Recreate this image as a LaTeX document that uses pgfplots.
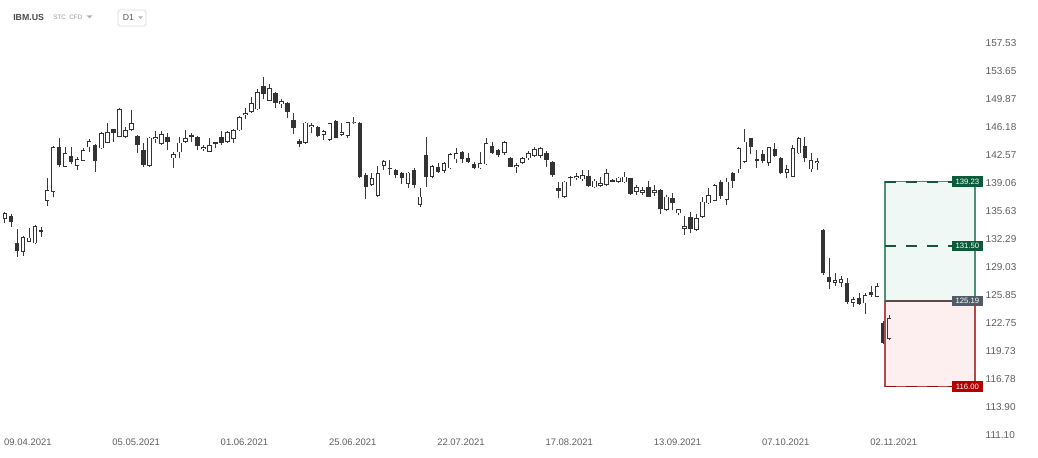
\documentclass[border=0pt]{standalone}
\usepackage{fontspec}
\setmainfont{Liberation Sans}
\usepackage{pgfplots}
\pgfplotsset{compat=1.18}
\usepackage{pgfplotstable}

\definecolor{cdark}{HTML}{333333}
\definecolor{cwick}{HTML}{3A3A3A}
\definecolor{ctick}{HTML}{5E5E5E}
\definecolor{hdr}{HTML}{4A4A4A}
\definecolor{gfill}{HTML}{2FA878}
\definecolor{gline}{HTML}{4E8F75}
\definecolor{gdash}{HTML}{14573B}
\definecolor{glab}{HTML}{0B5A3A}
\definecolor{rfill}{HTML}{E84A4A}
\definecolor{rline}{HTML}{B24A4A}
\definecolor{rdash}{HTML}{8B1010}
\definecolor{rlab}{HTML}{B30000}
\definecolor{mline}{HTML}{5B4A4A}
\definecolor{mlab}{HTML}{4F5B66}

% daily candles, i = trading day from 09.04.2021
\pgfplotstableread{
i o h l c
0 134.68 135.55 134.16 135.43
3 130.81 132.68 130.35 132.49
4 131.98 133.64 131.95 132.45
5 131.79 133.96 131.71 133.84
7 136.89 139.65 136.28 138.20
8 138.00 143.73 137.31 143.64
10 141.10 143.56 141.03 142.79
12 141.23 142.36 140.69 142.03
13 141.86 143.43 141.80 143.21
14 143.56 144.59 142.99 144.38
16 143.43 145.57 143.35 145.37
17 144.16 146.67 144.08 145.57
19 144.93 148.62 144.83 148.51
20 144.93 146.22 144.72 145.79
21 145.79 148.42 145.70 146.67
24 141.19 144.89 141.10 144.80
25 144.59 145.70 144.08 144.85
26 143.99 145.70 143.86 145.28
28 142.16 142.99 140.90 142.69
29 142.92 144.93 142.16 144.16
30 144.21 145.79 144.15 144.72
33 143.31 143.86 143.12 143.56
34 142.99 144.72 142.95 143.86
37 144.21 145.65 144.13 145.57
38 144.63 145.88 144.08 145.79
39 145.75 147.63 145.66 147.50
40 147.76 148.64 147.23 147.99
41 148.12 150.10 148.05 149.38
42 148.51 151.18 148.42 150.77
44 149.65 151.90 149.60 151.32
46 149.17 149.83 148.72 149.65
50 144.08 146.85 144.00 146.75
51 146.22 146.75 145.37 146.44
53 145.15 145.79 144.50 145.66
54 144.50 146.75 144.42 146.67
56 145.15 146.67 145.02 145.57
57 145.02 146.88 144.80 146.80
58 146.67 147.46 146.60 146.88
61 138.82 140.28 138.69 139.65
62 137.47 141.19 137.38 140.28
63 141.23 141.94 140.69 141.82
67 138.94 140.48 138.41 140.35
69 136.36 138.41 136.08 137.38
71 139.85 141.32 139.65 141.19
73 140.56 141.73 140.28 141.60
74 140.90 142.86 140.81 142.69
75 142.03 143.51 141.60 142.79
79 140.90 142.92 140.81 141.53
80 141.40 144.72 141.32 144.08
83 142.86 144.38 142.57 144.21
85 141.03 141.60 140.35 141.32
86 141.53 142.36 141.44 142.23
87 142.16 143.08 141.94 142.86
88 142.48 143.64 142.36 143.31
89 142.44 143.64 142.16 143.51
93 137.31 139.32 137.19 139.23
95 139.65 140.28 139.43 139.94
96 139.52 140.69 139.32 140.06
98 138.53 139.52 138.41 139.35
99 138.69 139.85 138.61 139.10
100 138.82 140.78 138.75 140.28
102 139.23 139.85 139.10 139.73
103 139.15 140.41 139.10 139.85
105 138.00 138.82 137.59 138.53
106 137.87 138.53 137.59 138.20
108 137.80 138.82 137.47 138.20
110 135.76 137.59 135.70 137.38
112 135.36 135.90 135.15 135.84
113 133.45 135.03 132.77 133.84
115 133.36 135.27 133.30 134.76
116 134.88 137.38 134.76 136.77
117 136.57 138.41 136.50 137.59
118 136.89 138.90 136.80 138.82
120 136.98 139.65 136.36 139.23
122 140.78 143.56 140.35 143.43
123 141.73 145.88 141.60 144.29
127 141.60 143.60 141.19 143.56
130 140.28 141.32 139.65 140.78
131 139.85 143.86 139.81 143.43
132 142.79 144.85 142.72 144.72
134 140.78 142.79 140.48 141.94
135 141.53 142.16 140.69 141.82
138 127.24 128.31 126.87 127.55
139 127.24 128.01 126.72 127.63
141 125.00 125.66 124.55 125.37
143 124.93 126.04 123.75 125.85
145 125.66 127.18 125.60 126.87
147 120.99 123.64 120.95 123.28
}\up

\pgfplotstableread{
i o h l c
1 135.03 135.27 133.76 134.28
2 131.79 133.45 130.23 130.93
6 133.36 133.76 132.56 133.16
9 143.64 144.72 141.03 141.32
11 142.44 143.56 141.44 141.73
15 143.86 144.00 140.48 141.82
18 145.88 145.92 144.29 145.37
22 145.02 145.10 142.79 143.86
23 143.21 144.08 141.10 141.32
27 144.93 145.37 143.21 144.21
31 145.15 145.37 144.29 144.85
32 144.93 145.00 143.21 143.73
35 144.21 144.29 143.43 143.99
36 144.93 145.70 143.86 144.16
43 151.63 152.80 149.83 150.50
45 150.64 150.86 148.72 149.38
47 149.30 149.51 147.33 148.20
48 147.10 147.99 145.28 146.01
49 144.38 144.59 143.56 143.99
52 146.22 146.31 144.85 145.02
55 146.97 147.10 144.72 144.80
59 146.67 146.88 139.64 139.77
60 140.06 140.28 137.06 138.53
64 140.90 141.94 140.06 140.78
65 140.69 140.78 139.65 140.06
66 140.28 140.48 138.94 139.65
68 140.69 140.90 138.41 138.82
70 142.57 144.93 138.61 139.85
72 141.03 141.60 140.35 140.48
76 142.99 143.08 141.60 142.03
77 142.23 142.86 141.60 141.65
78 141.40 141.73 140.81 140.90
81 143.73 144.21 142.66 142.79
82 143.21 143.34 142.36 142.57
84 142.16 142.36 141.03 141.10
90 142.79 143.12 141.10 141.94
91 141.65 141.86 139.85 140.06
92 138.41 139.23 137.19 138.08
94 139.85 139.94 138.69 139.65
97 139.94 140.69 138.61 138.69
101 139.39 139.56 139.15 139.23
104 139.65 139.70 137.59 137.71
107 138.53 139.32 137.31 137.38
109 138.20 138.30 135.27 135.84
111 137.19 137.87 135.76 136.65
114 134.95 135.55 132.97 133.45
119 139.23 139.43 137.06 137.47
121 140.35 140.48 138.41 139.32
124 144.72 144.80 142.69 143.56
125 142.03 143.21 140.90 141.86
126 142.66 143.21 141.53 141.86
128 143.31 144.08 142.36 142.48
129 142.23 142.30 140.20 140.28
133 143.73 144.85 141.73 142.16
136 133.36 133.48 128.12 128.31
137 127.93 130.04 126.49 127.29
140 127.18 127.75 124.85 125.11
142 125.48 126.04 124.74 124.85
144 126.22 126.87 125.66 125.85
146 122.78 122.97 120.45 120.56
}\dn

\begin{document}
\begin{tikzpicture}
\begin{axis}[
  width=778.5pt, height=342.75pt, scale only axis,
  xmin=-0.831, xmax=171.74,
  ymode=log, ymin=108.94, ymax=163.72,
  axis line style={draw=none},
  major tick length=0pt,
  xtick={0,18,36,54,72,90,108,126,144},
  xticklabels={09.04.2021,05.05.2021,01.06.2021,25.06.2021,22.07.2021,17.08.2021,13.09.2021,07.10.2021,02.11.2021},
  xticklabel style={anchor=west, inner sep=0pt, yshift=11.25pt, xshift=-0.8pt,
    font=\fontsize{7.1}{8}\selectfont, text=ctick},
  ytick={111.10,113.90,116.78,119.73,122.75,125.85,129.03,132.29,135.63,139.06,142.57,146.18,149.87,153.65,157.53},
  yticklabels={111.10,113.90,116.78,119.73,122.75,125.85,129.03,132.29,135.63,139.06,142.57,146.18,149.87,153.65,157.53},
  yticklabel pos=right,
  yticklabel style={anchor=west, inner sep=0pt, xshift=-39.4pt,
    font=\fontsize{7.5}{8}\selectfont, text=ctick},
]
% wicks
\addplot[draw=none, mark=none, forget plot, error bars/.cd, y dir=plus, y explicit,
  error mark=none, error bar style={draw=cwick, solid, line width=0.75pt}]
  table[x=i, y=l, y error expr=\thisrow{h}-\thisrow{l}] {\up};
\addplot[draw=none, mark=none, forget plot, error bars/.cd, y dir=plus, y explicit,
  error mark=none, error bar style={draw=cwick, solid, line width=0.75pt}]
  table[x=i, y=l, y error expr=\thisrow{h}-\thisrow{l}] {\dn};
% falling bodies
\addplot[draw=none, mark=none, forget plot, error bars/.cd, y dir=plus, y explicit,
  error mark=none, error bar style={draw=cdark, solid, line width=3.4pt}]
  table[x=i, y=c, y error expr=\thisrow{o}-\thisrow{c}] {\dn};
% rising bodies: outline, then white inside
\addplot[draw=none, mark=none, forget plot, error bars/.cd, y dir=plus, y explicit,
  error mark=none, error bar style={draw=cdark, solid, line width=3.4pt}]
  table[x=i, y=o, y error expr=\thisrow{c}-\thisrow{o}] {\up};
\addplot[draw=none, mark=none, forget plot, error bars/.cd, y dir=plus, y explicit,
  error mark=none, error bar style={draw=white, solid, line width=2.1pt}]
  table[x=i, y expr=\thisrow{o}*1.0007, y error expr={max(0,\thisrow{c}/1.0007-\thisrow{o}*1.0007)}] {\up};

% position tool: target / entry / stop
\fill[gfill, fill opacity=0.08] (axis cs:146.3,125.19) rectangle (axis cs:161.26,139.23);
\fill[rfill, fill opacity=0.09] (axis cs:146.3,116.00) rectangle (axis cs:161.26,125.19);
\draw[gline, line width=1.1pt] (axis cs:146.3,125.19) -- (axis cs:146.3,139.23) -- (axis cs:161.26,139.23) -- (axis cs:161.26,125.19);
\draw[rline, line width=1.1pt] (axis cs:146.3,125.19) -- (axis cs:146.3,116.00) -- (axis cs:161.26,116.00) -- (axis cs:161.26,125.19);
\draw[mline, line width=1.1pt] (axis cs:146.3,125.19) -- (axis cs:161.26,125.19);
\draw[gdash, line width=1.3pt, dash pattern=on 8.25pt off 7.5pt] (axis cs:146.3,139.23) -- (axis cs:157.4,139.23);
\draw[gdash, line width=1.3pt, dash pattern=on 8.25pt off 7.5pt] (axis cs:146.3,131.50) -- (axis cs:157.4,131.50);
\draw[rdash, line width=1.3pt, dash pattern=on 8.25pt off 7.5pt] (axis cs:146.3,116.00) -- (axis cs:157.4,116.00);
\tikzset{plab/.style={text=white, inner sep=0pt, minimum width=23.5pt, minimum height=7.8pt,
  font=\fontsize{5.8}{6}\selectfont}}
\node[plab, fill=glab] at (axis cs:160.0,139.23) {139.23};
\node[plab, fill=glab] at (axis cs:160.0,131.50) {131.50};
\node[plab, fill=mlab] at (axis cs:160.0,125.19) {125.19};
\node[plab, fill=rlab] at (axis cs:160.0,116.00) {116.00};
\end{axis}

% header, in pixels from the top left corner
\begin{scope}[shift={(current axis.north west)}, x=0.75pt, y=-0.75pt]
\node[anchor=west, inner sep=0pt, font=\bfseries\fontsize{6.6}{7}\selectfont, text=hdr] at (13,17) {IBM.US};
\node[anchor=west, inner sep=0pt, font=\fontsize{4.8}{5}\selectfont, text=black!40] at (53,17) {STC\enspace CFD};
\fill[black!30] (86.5,15.5) -- (92.5,15.5) -- (89.5,18.5) -- cycle;
\draw[black!15, line width=0.6pt, rounded corners=1.2pt] (118,10) rectangle (146,26);
\node[anchor=west, inner sep=0pt, font=\fontsize{6.5}{7}\selectfont, text=black!65] at (122.5,18) {D1};
\fill[black!30] (138,16.5) -- (143,16.5) -- (140.5,19) -- cycle;
\end{scope}

\pgfresetboundingbox
\path[use as bounding box] (current axis.south west) rectangle (current axis.north east);
\end{tikzpicture}
\end{document}
